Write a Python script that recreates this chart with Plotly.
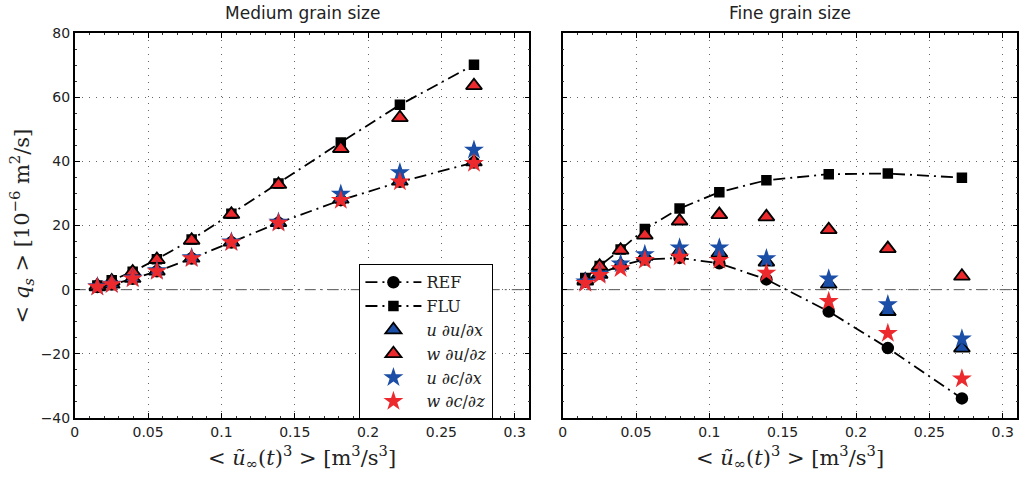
import plotly.graph_objects as go

# Mean cubed free-stream velocity <u_inf(t)^3> [m^3/s^3]
u3 = [0.0154, 0.0252, 0.0395, 0.056, 0.0797, 0.1068, 0.1389, 0.1814, 0.2217, 0.2722]

# Medium grain size: mean sediment flux <q_s> [1e-6 m^2/s]
med_ref = [0.8, 1.6, 3.4, 5.7, 9.7, 14.7, 20.8, 27.9, 33.6, 39.6]
med_flu = [1.3, 2.9, 5.6, 9.5, 15.6, 23.7, 33.1, 45.9, 57.6, 70.1]
med_u_dudx = [0.9, 1.7, 3.5, 5.8, 9.8, 14.8, 20.9, 28.2, 33.8, 39.8]
med_w_dudz = [1.2, 2.7, 5.5, 9.4, 15.4, 23.5, 32.8, 44.0, 53.6, 63.6]
med_u_dcdx = [1.0, 1.8, 3.6, 6.0, 10.0, 14.9, 21.1, 29.8, 36.5, 43.5]
med_w_dcdz = [0.8, 1.6, 3.4, 5.7, 9.7, 14.7, 20.8, 27.9, 33.6, 39.4]

# Fine grain size
fine_ref = [2.5, 5.0, 7.5, 9.4, 9.9, 8.2, 3.2, -6.8, -18.2, -33.9]
fine_flu = [3.6, 7.4, 12.5, 18.9, 25.3, 30.4, 34.1, 36.0, 36.2, 34.9]
fine_u_dudx = [2.7, 4.8, 7.6, 10.4, 11.8, 11.4, 8.6, 1.7, -6.8, -18.2]
fine_w_dudz = [3.0, 7.3, 12.3, 17.0, 21.4, 23.4, 22.7, 18.7, 12.8, 4.2]
fine_u_dcdx = [2.5, 5.0, 8.1, 11.0, 13.1, 13.1, 9.7, 3.4, -4.6, -15.3]
fine_w_dcdz = [2.0, 4.5, 6.6, 9.2, 10.2, 9.2, 5.2, -3.6, -13.6, -27.8]

x_ticks = [0, 0.05, 0.1, 0.15, 0.2, 0.25, 0.3]
x_tick_text = ["0", "0.05", "0.1", "0.15", "0.2", "0.25", "0.3"]
y_ticks = [-40, -20, 0, 20, 40, 60, 80]

panel_titles = ["Medium grain size", "Fine grain size"]
series_names = ["REF", "FLU",
                "<i>u</i> ∂<i>u</i>/∂<i>x</i>",
                "<i>w</i> ∂<i>u</i>/∂<i>z</i>",
                "<i>u</i> ∂<i>c</i>/∂<i>x</i>",
                "<i>w</i> ∂<i>c</i>/∂<i>z</i>"]

BLUE = "#1b4ea6"
RED = "#ec2a2e"
SERIF = "DejaVu Serif"
SANS = "DejaVu Sans"
DASHDOT = "12px,5px,2px,5px"

styles = [
    dict(mode="lines+markers", line=dict(color="black", width=1.8, dash=DASHDOT),
         marker=dict(symbol="circle", size=12.5, color="black")),
    dict(mode="lines+markers", line=dict(color="black", width=1.8, dash=DASHDOT),
         marker=dict(symbol="square", size=10.5, color="black")),
    dict(mode="markers", marker=dict(symbol="triangle-up", size=14, color=BLUE,
                                     line=dict(color="black", width=1.8))),
    dict(mode="markers", marker=dict(symbol="triangle-up", size=14, color=RED,
                                     line=dict(color="black", width=1.8))),
    dict(mode="markers", marker=dict(symbol="star", size=15, color=BLUE,
                                     line=dict(color=BLUE, width=0))),
    dict(mode="markers", marker=dict(symbol="star", size=15, color=RED,
                                     line=dict(color=RED, width=0))),
]

panels = [
    ("x", "y", [med_ref, med_flu, med_u_dudx, med_w_dudz, med_u_dcdx, med_w_dcdz], True),
    ("x2", "y2", [fine_ref, fine_flu, fine_u_dudx, fine_w_dudz, fine_u_dcdx, fine_w_dcdz], False),
]

fig = go.Figure()
for xa, ya, series, show in panels:
    for name, vals, st in zip(series_names, series, styles):
        fig.add_trace(go.Scatter(x=u3, y=vals, name=name, xaxis=xa, yaxis=ya,
                                 showlegend=show, **st))

# horizontal reference line at zero in each panel
for xa, ya in [("x", "y"), ("x2", "y2")]:
    fig.add_shape(type="line", xref=f"{xa} domain", yref=ya, x0=0, x1=1, y0=0, y1=0,
                  line=dict(color="#555555", width=1, dash="11px,5px,2px,5px"),
                  layer="below")

y_dom = [0.131, 0.9314]
axis_common = dict(
    automargin=False,
    showline=True, linecolor="black", linewidth=1.5, mirror="ticks",
    ticks="inside", ticklen=5, tickwidth=1, tickcolor="black",
    showgrid=True, gridcolor="#666666", gridwidth=1, griddash="1px,6px",
    zeroline=False, tickfont=dict(family=SANS, size=14, color="#222222"),
    minor=dict(ticks="inside", ticklen=2, tickcolor="#333333", showgrid=False),
)

fig.update_layout(
    width=1024, height=481,
    margin=dict(l=0, r=0, t=0, b=0, autoexpand=False),
    paper_bgcolor="white", plot_bgcolor="white",
    xaxis=dict(domain=[0.073, 0.517], range=[0, 0.31], tickvals=x_ticks,
               ticktext=x_tick_text, anchor="y", **axis_common),
    xaxis2=dict(domain=[0.5495, 0.9935], range=[0, 0.31], tickvals=x_ticks,
                ticktext=x_tick_text, anchor="y2", **axis_common),
    yaxis=dict(domain=y_dom, range=[-40, 80], tickvals=y_ticks, anchor="x", **axis_common),
    yaxis2=dict(domain=y_dom, range=[-40, 80], tickvals=y_ticks, anchor="x2",
                matches="y", showticklabels=False, **axis_common),
    legend=dict(x=0.351, y=0.4505, xanchor="left", yanchor="top",
                bgcolor="white", bordercolor="black", borderwidth=1,
                font=dict(family=SERIF, size=16, color="#222222"),
                itemwidth=56, tracegroupgap=0,
                entrywidth=100, entrywidthmode="pixels"),
)
fig.update_xaxes(minor_dtick=0.01)
fig.update_yaxes(minor_dtick=5)

sp = "\u00a0"
xlabel = (f"&lt;{sp}<i>ũ</i><sub>∞</sub>(<i>t</i>)<sup>3</sup>{sp}&gt;{sp}"
          "[m<sup>3</sup>/s<sup>3</sup>]")
ylabel = (f"&lt;{sp}<i>q</i><sub><i>s</i></sub>{sp}&gt;{sp}"
          "[10<sup>−6</sup> m<sup>2</sup>/s]")

centers = [(0.073 + 0.517) / 2, (0.5495 + 0.9935) / 2]
for cx, title in zip(centers, panel_titles):
    fig.add_annotation(x=cx, y=0.973, xref="paper", yref="paper", text=title,
                       xanchor="center", yanchor="middle", showarrow=False,
                       font=dict(family=SANS, size=17, color="#222222"))
    fig.add_annotation(x=cx, y=0.050, xref="paper", yref="paper", text=xlabel,
                       xanchor="center", yanchor="middle", showarrow=False,
                       font=dict(family=SERIF, size=21, color="#222222"))

fig.add_annotation(x=0.0205, y=0.531, xref="paper", yref="paper", text=ylabel,
                   xanchor="center", yanchor="middle", textangle=-90, showarrow=False,
                   font=dict(family=SERIF, size=21, color="#222222"))

fig.write_html("out.html")
